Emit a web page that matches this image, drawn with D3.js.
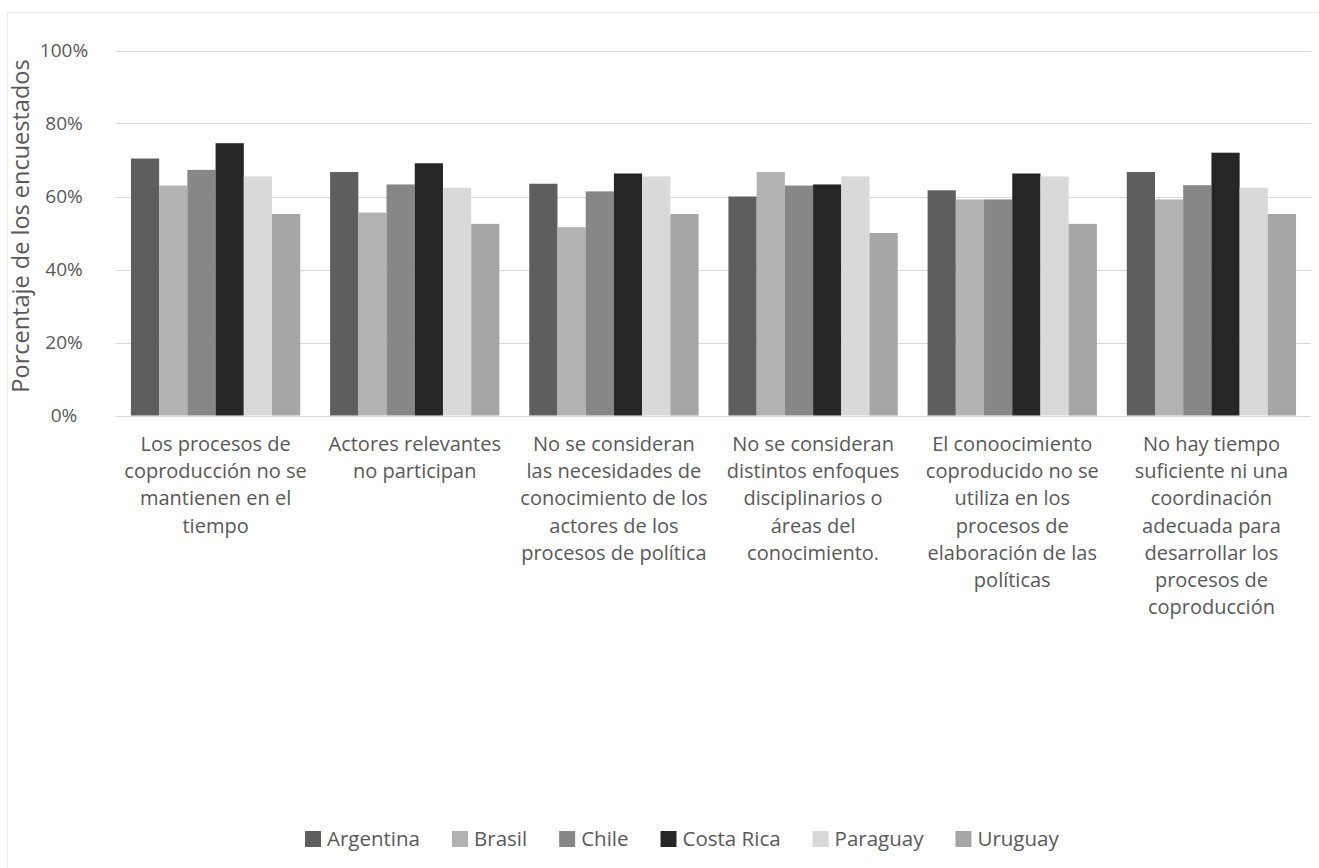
<!DOCTYPE html>
<html>
<head>
<meta charset="utf-8">
<script src="https://cdn.jsdelivr.net/npm/d3@7"></script>
<style>
  html, body { margin: 0; padding: 0; background: #ffffff; }
  svg { display: block; }
  text { font-family: "Open Sans", "Noto Sans", sans-serif; fill: #595959; }
</style>
</head>
<body>
<svg id="chart" width="1319" height="868"></svg>
<script>
const categories = [
  "Los procesos de\ncoproducción no se\nmantienen en el\ntiempo",
  "Actores relevantes\nno participan",
  "No se consideran\nlas necesidades de\nconocimiento de los\nactores de los\nprocesos de política",
  "No se consideran\ndistintos enfoques\ndisciplinarios o\náreas del\nconocimiento.",
  "El conoocimiento\ncoproducido no se\nutiliza en los\nprocesos de\nelaboración de las\npolíticas",
  "No hay tiempo\nsuficiente ni una\ncoordinación\nadecuada para\ndesarrollar los\nprocesos de\ncoproducción"
];
const seriesNames = ["Argentina", "Brasil", "Chile", "Costa Rica", "Paraguay", "Uruguay"];
const argentina = [70.4, 66.7, 63.5, 60.0, 61.7, 66.7];
const brasil    = [63.0, 55.6, 51.6, 66.7, 59.2, 59.2];
const chile     = [67.3, 63.3, 61.4, 63.0, 59.2, 63.1];
const costaRica = [74.6, 69.1, 66.3, 63.3, 66.3, 72.0];
const paraguay  = [65.5, 62.4, 65.5, 65.5, 65.5, 62.4];
const uruguay   = [55.2, 52.5, 55.2, 50.0, 52.5, 55.2];
const seriesColors = ["#5e5e5e", "#b2b2b2", "#878787", "#262626", "#d9d9d9", "#a6a6a6"];
const yTicks = [0, 20, 40, 60, 80, 100];
const yTitle = "Porcentaje de los encuestados";

const seriesValues = [argentina, brasil, chile, costaRica, paraguay, uruguay];
const svg = d3.select("#chart");

// faint chart border
svg.append("rect").attr("x", 7.5).attr("y", 12.5).attr("width", 1330).attr("height", 900)
  .attr("fill", "none").attr("stroke", "#ececec");

const plot = { left: 116, right: 1311, top: 50.5, bottom: 415.5 };

const x = d3.scaleBand().domain(d3.range(categories.length))
  .range([plot.left, plot.right]).paddingInner(0.15).paddingOuter(0.075);
const xs = d3.scaleBand().domain(d3.range(seriesNames.length)).range([0, x.bandwidth()]);
const y = d3.scaleLinear().domain([0, 100]).range([plot.bottom, plot.top]);

// gridlines
svg.append("g").selectAll("line").data(yTicks).join("line")
  .attr("x1", plot.left).attr("x2", plot.right)
  .attr("y1", d => Math.round(y(d)) + 0.5).attr("y2", d => Math.round(y(d)) + 0.5)
  .attr("stroke", "#d9d9d9").attr("stroke-width", 1);

// y axis labels
const yAxis = d3.axisLeft(y).tickValues(yTicks).tickFormat(d => d + "%").tickSize(0).tickPadding(0);
const yg = svg.append("g").attr("transform", `translate(64,0)`).call(yAxis);
yg.select(".domain").remove();
yg.selectAll("text").style("font-size", "19px").attr("fill", "#595959")
  .attr("text-anchor", "middle")
  .style("font-family", '"Open Sans", sans-serif');

// y title
svg.append("text")
  .attr("transform", `translate(29, 226) rotate(-90)`)
  .attr("text-anchor", "middle").style("font-size", "23.5px").text(yTitle);

// bars
const groups = svg.append("g").selectAll("g").data(categories.map((c, i) => i)).join("g")
  .attr("transform", i => `translate(${x(i)},0)`);
groups.selectAll("rect").data(i => seriesValues.map((vals, s) => ({ s, v: vals[i] }))).join("rect")
  .attr("x", d => xs(d.s)).attr("width", xs.bandwidth())
  .attr("y", d => y(d.v)).attr("height", d => y(0) - y(d.v))
  .attr("fill", d => seriesColors[d.s]);

// category labels
const lineH = 27.2;
const lab = svg.append("g").selectAll("text").data(categories).join("text")
  .attr("text-anchor", "middle")
  .attr("x", (d, i) => x(i) + x.bandwidth() / 2)
  .attr("y", 451)
  .style("font-size", "20px");
lab.selectAll("tspan").data(d => d.split("\n")).join("tspan")
  .attr("x", function () { return this.parentNode.getAttribute("x"); })
  .attr("dy", (d, i) => i === 0 ? 0 : lineH)
  .text(d => d);

// legend
const leg = svg.append("g");
let lx = 305;
const ly = 839;
seriesNames.forEach((name, i) => {
  leg.append("rect").attr("x", lx).attr("y", ly - 8).attr("width", 16).attr("height", 16)
    .attr("fill", seriesColors[i]);
  const t = leg.append("text").attr("x", lx + 22).attr("y", ly + 7)
    .style("font-size", "20.5px").text(name);
  lx += 22 + t.node().getComputedTextLength() + 32;
});
</script>
</body>
</html>
